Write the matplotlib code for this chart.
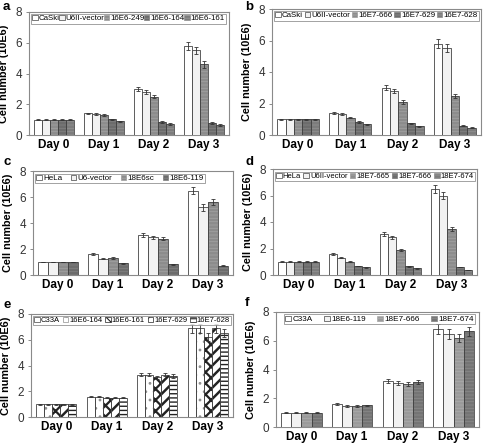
import matplotlib
matplotlib.use("Agg")
import matplotlib.pyplot as plt
import numpy as np

plt.rcParams['font.family'] = ['Liberation Sans', 'DejaVu Sans']
plt.rcParams['hatch.linewidth'] = 0.8

days = ["Day 0", "Day 1", "Day 2", "Day 3"]

# panel a
a_names = ["CaSki", "U6II-vector", "16E6-249", "16E6-164", "16E6-161"]
a_vals = [[1.0, 1.4, 3.0, 5.8],
          [1.0, 1.35, 2.8, 5.5],
          [1.0, 1.3, 2.5, 4.6],
          [1.0, 1.02, 0.85, 0.78],
          [1.0, 0.88, 0.72, 0.65]]
a_errs = [[0.03, 0.05, 0.12, 0.28],
          [0.03, 0.05, 0.12, 0.25],
          [0.03, 0.05, 0.12, 0.22],
          [0.03, 0.04, 0.05, 0.05],
          [0.03, 0.04, 0.04, 0.04]]

# panel b
b_names = ["CaSki", "U6II-vector", "16E7-666", "16E7-629", "16E7-628"]
b_vals = [[1.0, 1.4, 3.0, 5.8],
          [1.0, 1.35, 2.8, 5.5],
          [1.0, 1.1, 2.1, 2.5],
          [1.0, 0.82, 0.75, 0.58],
          [1.0, 0.68, 0.55, 0.45]]
b_errs = [[0.03, 0.05, 0.15, 0.28],
          [0.03, 0.05, 0.12, 0.25],
          [0.03, 0.04, 0.1, 0.12],
          [0.03, 0.04, 0.04, 0.04],
          [0.03, 0.03, 0.03, 0.03]]

# panel c
c_names = ["HeLa", "U6-vector", "18E6sc", "18E6-119"]
c_vals = [[1.0, 1.6, 3.1, 6.5],
          [1.0, 1.25, 2.9, 5.2],
          [1.0, 1.3, 2.8, 5.6],
          [1.0, 0.9, 0.82, 0.7]]
c_errs = [[0.03, 0.06, 0.15, 0.3],
          [0.03, 0.05, 0.12, 0.25],
          [0.03, 0.05, 0.12, 0.25],
          [0.03, 0.04, 0.04, 0.04]]

# panel d
d_names = ["HeLa", "U6II-vector", "18E7-665", "18E7-666", "18E7-674"]
d_vals = [[1.0, 1.6, 3.1, 6.5],
          [1.0, 1.3, 2.85, 6.0],
          [1.0, 1.0, 1.9, 3.5],
          [1.0, 0.68, 0.65, 0.6],
          [1.0, 0.58, 0.5, 0.38]]
d_errs = [[0.03, 0.06, 0.15, 0.3],
          [0.03, 0.05, 0.12, 0.28],
          [0.03, 0.04, 0.08, 0.15],
          [0.03, 0.03, 0.03, 0.03],
          [0.03, 0.03, 0.03, 0.03]]

# panel e
e_names = ["C33A", "16E6-164", "16E6-161", "16E7-629", "16E7-628"]
e_vals = [[1.0, 1.58, 3.3, 6.9],
          [1.0, 1.58, 3.3, 6.9],
          [0.98, 1.48, 3.1, 6.2],
          [1.0, 1.5, 3.3, 6.9],
          [0.98, 1.5, 3.2, 6.5]]
e_errs = [[0.03, 0.04, 0.15, 0.35],
          [0.03, 0.04, 0.15, 0.35],
          [0.03, 0.04, 0.12, 0.3],
          [0.03, 0.05, 0.15, 0.35],
          [0.03, 0.05, 0.15, 0.3]]

# panel f
f_names = ["C33A", "18E6-119", "18E7-666", "18E7-674"]
f_vals = [[1.0, 1.58, 3.2, 6.8],
          [1.0, 1.45, 3.08, 6.5],
          [1.0, 1.48, 3.0, 6.2],
          [1.0, 1.5, 3.15, 6.65]]
f_errs = [[0.03, 0.06, 0.15, 0.35],
          [0.03, 0.06, 0.15, 0.35],
          [0.03, 0.06, 0.15, 0.3],
          [0.03, 0.06, 0.15, 0.3]]

# styles: (facecolor, hatch, hatchcolor, hatch linewidth)
grey5 = [("white", None, None, 0.8), ("#f2f2f2", None, None, 0.8),
         ("#8c8c8c", "-----", "#a0a0a0", 0.6), ("#6c6c6c", "-----", "#808080", 0.6),
         ("#7c7c7c", "-----", "#909090", 0.6)]
grey4c = [("white", None, None, 0.8), ("#f2f2f2", None, None, 0.8),
          ("#8c8c8c", "-----", "#a0a0a0", 0.6), ("#6c6c6c", "-----", "#808080", 0.6)]
grey4f = [("white", None, None, 0.8), ("#f2f2f2", None, None, 0.8),
          ("#9a9a9a", "-----", "#aaaaaa", 0.6), ("#747474", "-----", "#888888", 0.6)]
patt5 = [("white", None, None, 0.8), ("white", "..", "#909090", 0.8),
         ("white", "xxx", "#222222", 1.6), ("white", "///", "#222222", 1.8),
         ("white", "----", "#222222", 1.0)]

W, H = 483, 443
fig = plt.figure(figsize=(W / 100, H / 100), dpi=100)


def panel(l, r, t, b, letter, lxy, names, vals, errs, styles, leg_box, leg_fs):
    ax = fig.add_axes([l / W, 1 - b / H, (r - l) / W, (b - t) / H])
    n = len(names)
    gw = 0.8
    bw = gw / n
    x = np.arange(len(days))
    handles = []
    for i in range(n):
        fc, hatch, hc, hlw = styles[i]
        pos = x - gw / 2 + bw * (i + 0.5)
        with plt.rc_context({'hatch.linewidth': hlw}):
            if hatch:
                ax.bar(pos, vals[i], bw, color=fc, hatch=hatch, edgecolor=hc,
                       linewidth=0, zorder=2)
            proxy = plt.Rectangle((0, 0), 1, 1, facecolor=fc, hatch=hatch,
                                  edgecolor=hc if hatch else "#444444",
                                  linewidth=0.5)
        ax.bar(pos, vals[i], bw, color=fc if not hatch else "none",
               edgecolor="#444444", linewidth=0.6, zorder=3)
        ax.errorbar(pos, vals[i], yerr=errs[i], fmt="none", ecolor="#333333",
                    elinewidth=0.6, capsize=1.3, capthick=0.6, zorder=4)
        handles.append(proxy)
    ax.set_xlim(-0.5, 3.5)
    ax.set_ylim(0, 8)
    ax.set_yticks([0, 2, 4, 6, 8])
    ax.set_xticks(x)
    ax.set_xticklabels(days, fontweight="bold", fontsize=8.5)
    ax.tick_params(axis="x", length=0, pad=3)
    ax.tick_params(axis="y", length=2, width=0.6, color="#777777",
                   labelsize=8.5, labelcolor="#333333", pad=3)
    for s in ax.spines.values():
        s.set_color("#8a8a8a")
        s.set_linewidth(0.8)
    ax.set_ylabel("Cell number (10E6)", fontweight="bold", fontsize=7.8)
    ax.yaxis.set_label_coords(-20.0 / (r - l), 0.5)
    leg = ax.legend(handles, names, ncol=n, loc="upper left",
                    bbox_to_anchor=leg_box, mode="expand", fontsize=leg_fs,
                    handlelength=0.7, handleheight=0.6, handletextpad=0.15,
                    columnspacing=0.2, borderpad=0.15, borderaxespad=0,
                    frameon=True, fancybox=False, edgecolor="#777777")
    leg.get_frame().set_linewidth(0.6)
    fig.text(lxy[0] / W, 1 - lxy[1] / H, letter, fontsize=9.5,
             fontweight="bold", va="top", ha="left")
    return ax


panel(29, 229, 12, 135, "a", (3, 1), a_names, a_vals, a_errs, grey5,
      (0.01, 0.985, 0.975, 0.0), 5.7)
panel(272, 481, 9, 135, "b", (245, 1), b_names, b_vals, b_errs, grey5,
      (0.01, 0.985, 0.98, 0.0), 5.7)
panel(33, 233, 171, 275, "c", (3, 156), c_names, c_vals, c_errs, grey4c,
      (0.01, 0.975, 0.85, 0.0), 5.8)
panel(273, 477, 169, 275, "d", (245, 156), d_names, d_vals, d_errs, grey5,
      (0.01, 0.975, 0.98, 0.0), 5.5)
panel(31, 233, 314, 417, "e", (3, 299), e_names, e_vals, e_errs, patt5,
      (0.01, 0.98, 0.98, 0.0), 5.5)
panel(276, 479, 312, 427, "f", (245, 297), f_names, f_vals, f_errs, grey4f,
      (0.04, 0.98, 0.94, 0.0), 5.9)

fig.savefig("out.png", dpi=100)
